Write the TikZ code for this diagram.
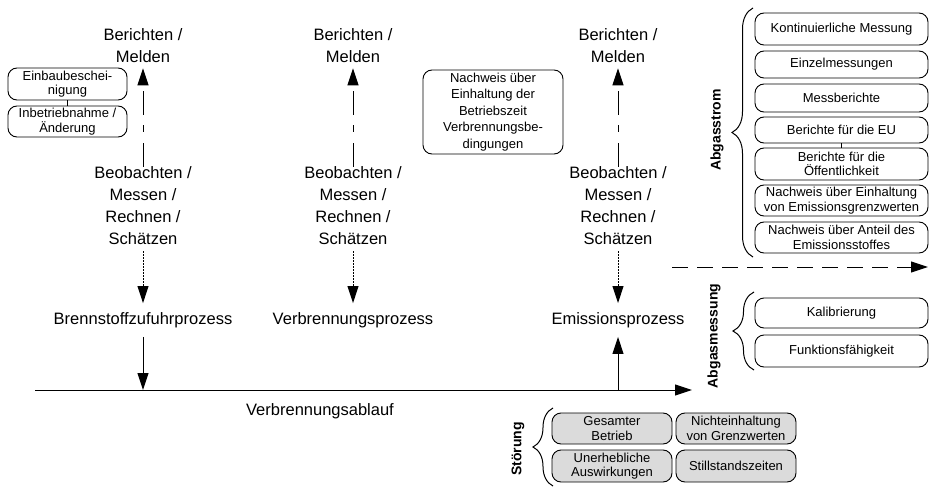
\documentclass[tikz,border=0pt]{standalone}
\usepackage{fontspec}
\setmainfont{Liberation Sans}
\usetikzlibrary{arrows.meta,decorations.pathreplacing}
\begin{document}
\begin{tikzpicture}[x=1pt,y=-1pt,
  lbl/.style={font=\fontsize{16.5}{22}\selectfont, align=center, inner sep=0pt},
  plbl/.style={font=\fontsize{16.5}{22}\selectfont, inner sep=0pt, text height=12pt, text depth=3.5pt},
  rbox/.style={draw, rounded corners=9pt, line width=0.9pt, font=\fontsize{13}{14.5}\selectfont, align=center, inner sep=0pt},
  gbox/.style={rbox, fill=black!14},
  side/.style={font=\bfseries\fontsize{14}{16}\selectfont, rotate=90, inner sep=0pt},
  tip/.style={-{Triangle[length=17pt,width=11pt]}},
  arr/.style={line width=1pt, tip},
  ddarr/.style={line width=1pt, tip, dash pattern=on 24pt off 11pt on 7pt off 10pt},
  dotarr/.style={line width=1pt, tip, dash pattern=on 1.5pt off 1.5pt},
  dsharr/.style={line width=1pt, tip, dash pattern=on 16pt off 9pt},
  brc/.style={decorate, line width=1pt}
]
\useasboundingbox (0,0) rectangle (930,487);

% columns
\node[lbl] (ber1) at (143,46) {Berichten /\\Melden};
\node[lbl] (ber2) at (353,46) {Berichten /\\Melden};
\node[lbl] (ber3) at (618,46) {Berichten /\\Melden};

\node[lbl] (beo1) at (143,206) {Beobachten /\\Messen /\\Rechnen /\\Schätzen};
\node[lbl] (beo2) at (353,206) {Beobachten /\\Messen /\\Rechnen /\\Schätzen};
\node[lbl] (beo3) at (618,206) {Beobachten /\\Messen /\\Rechnen /\\Schätzen};

\node[plbl] (p1) at (143,320) {Brennstoffzufuhrprozess};
\node[plbl] (p2) at (353,320) {Verbrennungsprozess};
\node[plbl] (p3) at (618,320) {Emissionsprozess};

\draw[ddarr, shorten >=5pt] (beo1.north) -- (ber1.south);
\draw[ddarr, shorten >=5pt] (beo2.north) -- (ber2.south);
\draw[ddarr, shorten >=5pt] (beo3.north) -- (ber3.south);

\draw[dotarr, shorten <=6pt, shorten >=9pt] (beo1.south) -- (p1.north);
\draw[dotarr, shorten <=6pt, shorten >=9pt] (beo2.south) -- (p2.north);
\draw[dotarr, shorten <=6pt, shorten >=9pt] (beo3.south) -- (p3.north);

% axis
\coordinate (axs) at (35,390);
\coordinate (axe) at (692,390);
\draw[arr] (axs) -- (axe);
\draw[arr, shorten <=9pt] (p1.south) -- (p1.south |- axs);
\draw[arr, shorten >=9pt] (p3.south |- axs) -- (p3.south);
\node[plbl] (vab) at (320,411) {Verbrennungsablauf};

% left boxes
\node[rbox, minimum width=119pt, minimum height=32pt] (eb) at (67.5,84) {Einbaubeschei-\\nigung};
\node[rbox, minimum width=119pt, minimum height=31pt] (ib) at (67.5,121.5) {Inbetriebnahme /\\Änderung};
\draw[line width=0.9pt] (eb) -- (ib);

% Nachweis box
\node[rbox, font=\fontsize{13}{16.5}\selectfont, minimum width=140pt, minimum height=84pt] (nw) at (493,112)
  {Nachweis über\\Einhaltung der\\Betriebszeit\\Verbrennungsbe-\\dingungen};

% Abgasstrom
\node[rbox, minimum width=173pt, minimum height=32pt] (a1) at (841.5,29) {Kontinuierliche Messung};
\node[rbox, minimum width=173pt, minimum height=27pt] (a2) at (841.5,64.5) {Einzelmessungen};
\node[rbox, minimum width=173pt, minimum height=28pt] (a3) at (841.5,98) {Messberichte};
\node[rbox, minimum width=173pt, minimum height=26pt] (a4) at (841.5,130) {Berichte für die EU};
\node[rbox, minimum width=173pt, minimum height=32pt] (a5) at (841.5,164) {Berichte für die\\Öffentlichkeit};
\node[rbox, minimum width=173pt, minimum height=31pt] (a6) at (841.5,200.5) {Nachweis über Einhaltung\\von Emissionsgrenzwerten};
\node[rbox, minimum width=173pt, minimum height=31pt] (a7) at (841.5,237.5) {Nachweis über Anteil des\\Emissionsstoffes};
\draw[line width=0.9pt] (a4) -- (a5);
\draw[brc, decoration={brace, amplitude=21pt}] (753,257) -- (753,8);
\node[side] (abgs) at (717,130) {Abgasstrom};

% dashed arrow
\coordinate (ds) at (672,267);
\coordinate (de) at (928,267);
\draw[dsharr] (ds) -- (de);

% Abgasmessung
\node[rbox, minimum width=173pt, minimum height=30pt] (k1) at (841.5,313) {Kalibrierung};
\node[rbox, minimum width=173pt, minimum height=32pt] (k2) at (841.5,351) {Funktionsfähigkeit};
\draw[brc, decoration={brace, amplitude=21pt}] (754,370) -- (754,292);
\node[side] (abgm) at (714,336) {Abgasmessung};

% Störung
\node[gbox, minimum width=120pt, minimum height=31pt] (s1) at (612,428.5) {Gesamter\\Betrieb};
\node[gbox, minimum width=120pt, minimum height=31pt] (s2) at (736,428.5) {Nichteinhaltung\\von Grenzwerten};
\node[gbox, minimum width=120pt, minimum height=32pt] (s3) at (612,466) {Unerhebliche\\Auswirkungen};
\node[gbox, minimum width=120pt, minimum height=32pt] (s4) at (736,466) {Stillstandszeiten};
\draw[brc, decoration={brace, amplitude=20pt}] (553,486) -- (553,408);
\node[side] (stoe) at (518,449) {Störung};
\end{tikzpicture}
\end{document}
